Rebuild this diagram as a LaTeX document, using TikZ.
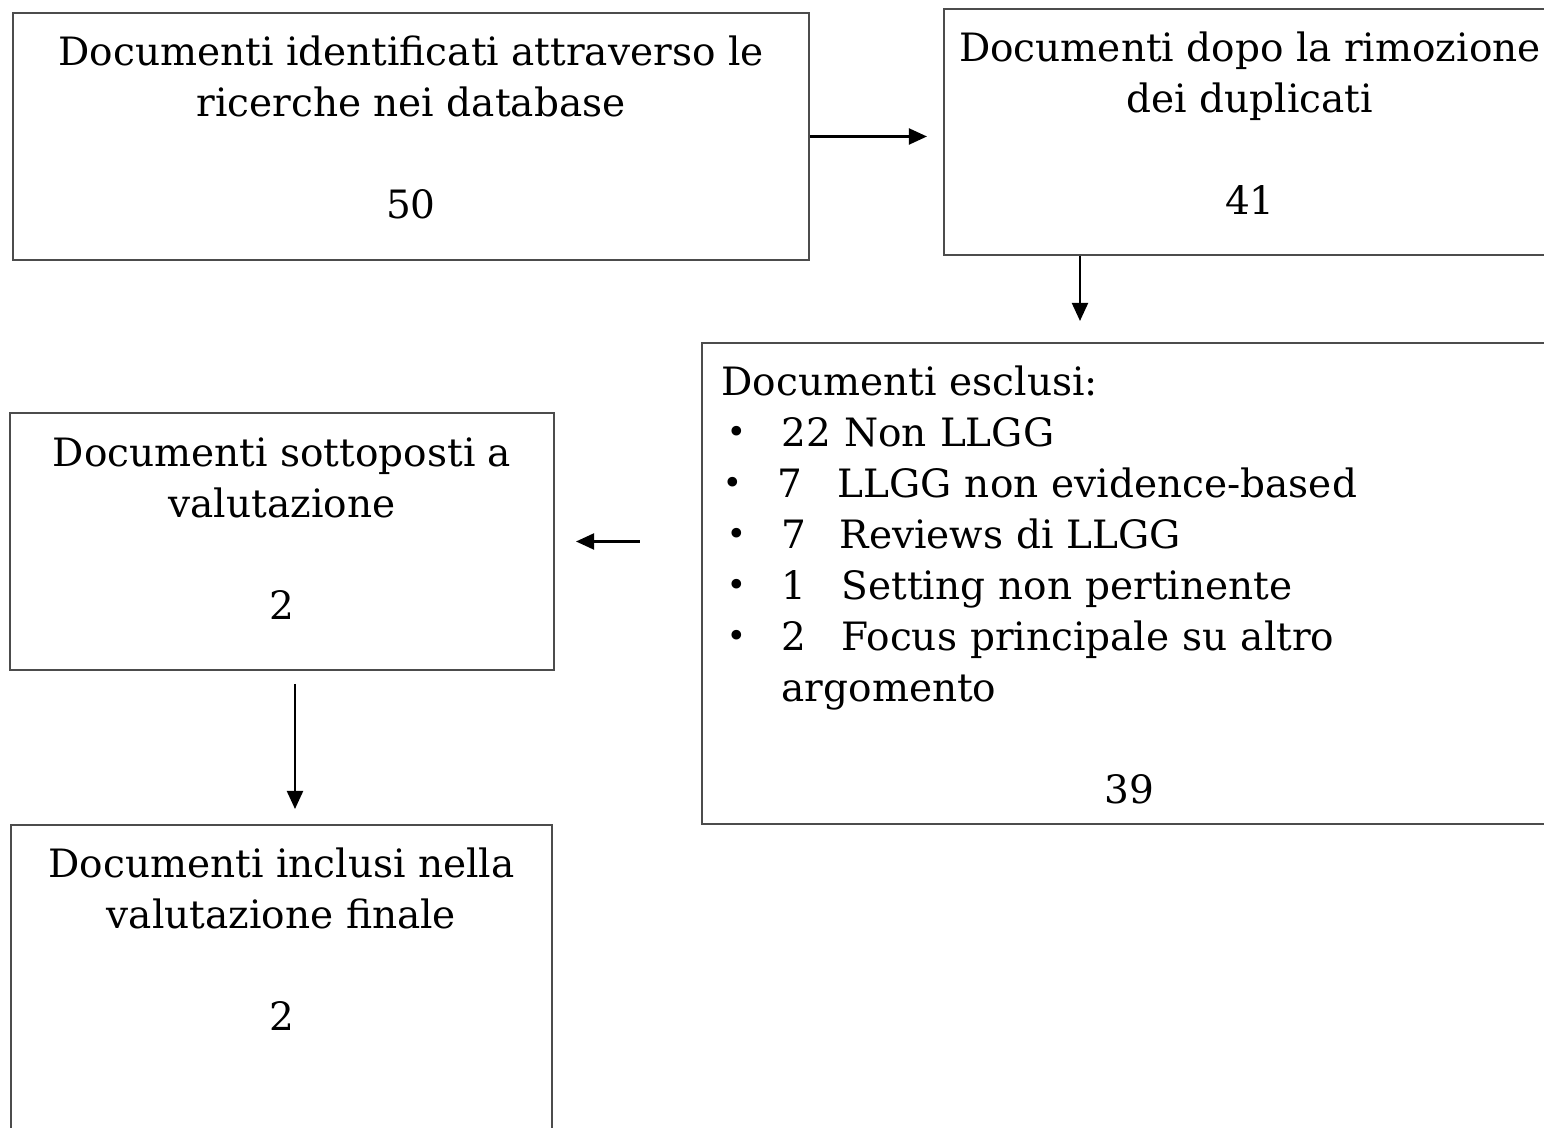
\documentclass[tikz,border=0pt]{standalone}
\usepackage{fontspec}
\setmainfont{DejaVu Serif}
\usetikzlibrary{arrows.meta}
\usetikzlibrary{positioning}

\newcommand{\blt}{\raisebox{0.08em}{\scalebox{0.85}{\textbullet}}}

\begin{document}
\begin{tikzpicture}[x=0.01cm, y=-0.01cm,
  box/.style={draw=black!70, line width=0.5pt, inner sep=0pt},
  lbl/.style={inner sep=0pt, align=center, font=\fontsize{11.1pt}{14.5pt}\selectfont},
  arr/.style={-{Triangle[length=0.18cm, width=0.16cm]}, line width=0.6pt, black}]
% page frame
\useasboundingbox (0,0) rectangle (1544,1128);

% boxes
\node[box, minimum width=7.96cm, minimum height=2.47cm] (ident) at (411,136.5) {};
\node[box, minimum width=6.12cm, minimum height=2.46cm] (dopo) at (1250,132) {};
\node[box, minimum width=8.56cm, minimum height=4.81cm] (esclusi) at (1130,583.5) {};
\node[box, minimum width=5.44cm, minimum height=2.57cm] (valut) at (282,541.5) {};
\node[box, minimum width=5.41cm, minimum height=3.35cm] (incl) at (281.5,992.5) {};

% texts
\node[lbl, anchor=north] (identT) at ([yshift=-0.23cm]ident.north)
  {Documenti identificati attraverso le\\ricerche nei database\\[14.5pt]50};
\node[lbl, anchor=north] (dopoT) at ([yshift=-0.23cm]dopo.north)
  {Documenti dopo la rimozione\\dei duplicati\\[14.5pt]41};
\node[lbl, anchor=north west, align=left, text width=8.16cm] (esclusiT)
  at ([xshift=0.2cm, yshift=-0.23cm]esclusi.north west)
  {Documenti esclusi:\\
   \makebox[0.6cm][l]{\hspace{0.05cm}\blt}22 Non LLGG\\
   \makebox[0.56cm][l]{\hspace{0.01cm}\blt}\makebox[0.6cm][l]{7}LLGG non evidence-based\\
   \makebox[0.6cm][l]{\hspace{0.05cm}\blt}\makebox[0.58cm][l]{7}Reviews di LLGG\\
   \makebox[0.6cm][l]{\hspace{0.05cm}\blt}\makebox[0.6cm][l]{1}Setting non pertinente\\
   \makebox[0.6cm][l]{\hspace{0.05cm}\blt}\makebox[0.6cm][l]{2}Focus principale su altro\\
   \hspace*{0.6cm}argomento\\[14.5pt]
   \makebox[\linewidth]{39}};
\node[lbl, anchor=north] (valutT) at ([yshift=-0.25cm]valut.north)
  {Documenti sottoposti a\\valutazione\\[14.5pt]2};
\node[lbl, anchor=north] (inclT) at ([yshift=-0.23cm]incl.north)
  {Documenti inclusi nella\\valutazione finale\\[14.5pt]2};

% connectors
\coordinate (bc) at (1080,300);
\coordinate (de) at (295,750);
\draw[arr, shorten >=0.16cm] (ident.east) -- (ident.east -| dopo.west);
\draw[arr, shorten >=0.21cm] (dopo.south -| bc) -- (esclusi.north -| bc);
\draw[arr, shorten <=0.61cm, shorten >=0.21cm] (esclusi.west |- valut.east) -- (valut.east);
\draw[arr, shorten <=0.13cm, shorten >=0.15cm] (valut.south -| de) -- (incl.north -| de);

\end{tikzpicture}
\end{document}
